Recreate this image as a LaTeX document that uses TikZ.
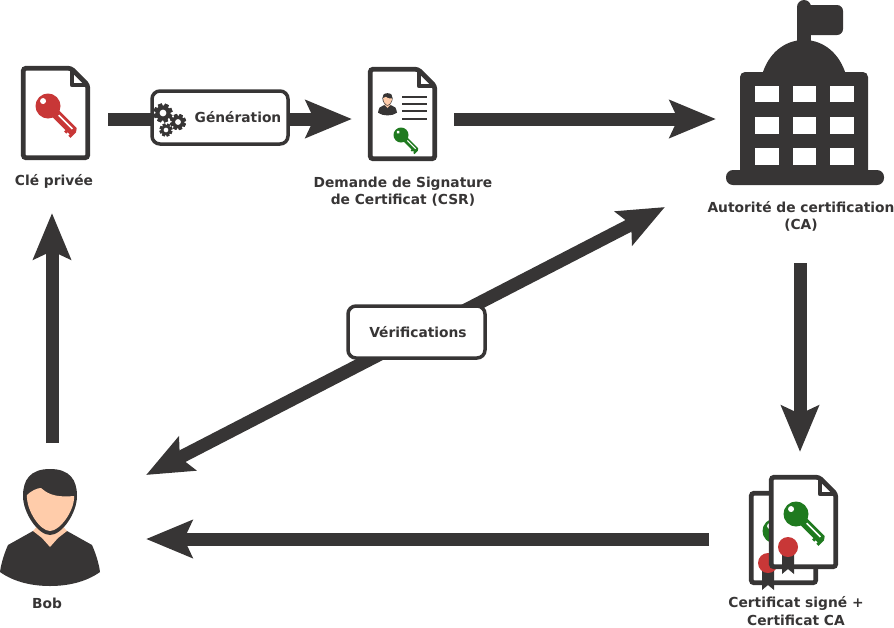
\documentclass[tikz,border=0pt]{standalone}
\usepackage{fontspec}
\setmainfont{DejaVu Sans}
\usetikzlibrary{arrows.meta}
\definecolor{inkdark}{HTML}{373535}
\definecolor{keyred}{HTML}{C83737}
\definecolor{keygreen}{HTML}{1F7A1F}
\definecolor{skin}{HTML}{FFCCAA}
\tikzset{
	zone/.style={shape=rectangle,inner sep=0pt,outer sep=0pt},
	flux/.style={draw=inkdark,line width=13pt,>={Stealth[length=46pt,width=37pt,inset=8pt]}},
	caption/.style={font=\fontsize{13.8}{17.5}\selectfont\bfseries,text=inkdark,align=center,inner sep=0pt},
	tagbox/.style={shape=rectangle,draw=inkdark,fill=white,line width=3.5pt,rounded corners=8pt,font=\fontsize{13.8}{17.5}\selectfont\bfseries,text=inkdark,inner sep=0pt}
}
\newcommand{\docicon}[2]{
	\begin{scope}[shift={(#1,#2)}]
		\draw[draw=inkdark,fill=white,line width=4.7pt,rounded corners=2.5pt] (2.3,2.3) -- (50,2.3) -- (66.7,19) -- (66.7,91.7) -- (2.3,91.7) -- cycle;
		\draw[draw=inkdark,line width=4.7pt,line join=round] (51,2.3) -- (51,19) -- (66.7,19);
	\end{scope}
}
\newcommand{\keyicon}[4]{
	\begin{scope}[shift={(#1,#2)},rotate=-45,scale=#3]
		\fill[#4] (9,-4.6) -- (36,-4.6) -- (38.5,-1) -- (38.5,6.6) -- (35.5,6.6) -- (35.5,4.6) -- (32.5,4.6) -- (32.5,6.6) -- (29.5,6.6) -- (29.5,4.6) -- (9,4.6) -- cycle;
		\fill[#4] (0,0) circle (12.5);
		\fill[white] (-7,0) circle (3);
		\fill[white] (14,-1.8) rectangle (33.5,-0.2);
	\end{scope}
}
\newcommand{\sealicon}[2]{
	\begin{scope}[shift={(#1,#2)}]
		\fill[inkdark] (-6,0) -- (6,0) -- (6,27) -- (0,22) -- (-6,27) -- cycle;
		\fill[keyred] (0,0) circle (10);
	\end{scope}
}
\newcommand{\gearicon}[3]{
	\begin{scope}[shift={(#1,#2)},scale=#3]
		\foreach \ga in {0,45,...,315}
			\fill[inkdark,rotate=\ga+20] (-2.2,-10) rectangle (2.2,10);
		\fill[inkdark] (0,0) circle (8);
		\fill[white] (0,0) circle (3.6);
	\end{scope}
}
\newcommand{\bobicon}[3]{
	\begin{scope}[shift={(#1,#2)},scale=#3]
		\fill[inkdark] (33,63) -- (8,77) .. controls (4,86) and (1,96) .. (0,104) .. controls (14,114) and (32,118) .. (50,118) .. controls (68,118) and (86,114) .. (100,104) .. controls (99,96) and (96,86) .. (92,77) -- (67,63) -- cycle;
		\fill[skin] (33,63) -- (42,70) -- (50,79) -- (58,70) -- (67,63) -- (60,55) -- (40,55) -- cycle;
		\fill[inkdark] (50,1) .. controls (30,1) and (23,12) .. (23,28) .. controls (23,45) and (38,67) .. (50,67) .. controls (62,67) and (77,45) .. (77,28) .. controls (77,12) and (70,1) .. (50,1) -- cycle;
		\fill[skin] (27,27) .. controls (31,23) and (37,20) .. (41,20) .. controls (46,24) and (52,30) .. (74,28) .. controls (75,42) and (60,63) .. (50,63) .. controls (40,63) and (26,42) .. (27,27) -- cycle;
	\end{scope}
}

\begin{document}
\begin{tikzpicture}[x=1pt,y=-1pt]
	\useasboundingbox (0,0) rectangle (894,627);
	\path (52,119) node (cle) [zone,minimum width=112pt,minimum height=188pt] {}
		  (403,119) node (csr) [zone,minimum width=102pt,minimum height=100pt] {}
		  (800,119) node (ca) [zone,minimum width=168pt,minimum height=288pt] {}
		  (800,539) node (cert) [zone,minimum width=182pt,minimum height=174pt] {}
		  (52,539) node (bob) [zone,minimum width=188pt,minimum height=192pt] {};
	\coordinate (dgbob) at (146,475);
	\coordinate (dgca) at (665,207);
	\draw[flux,->] (cle) -- (csr);
	\draw[flux,->] (csr) -- (ca);
	\draw[flux,->] (ca) -- (cert);
	\draw[flux,->] (cert) -- (bob);
	\draw[flux,->] (bob) -- (cle);
	\draw[flux,<->] (dgbob) -- (dgca);
	\path (220,117.5) node (gen) [tagbox,minimum width=136pt,minimum height=53pt] {\hspace*{36pt}Génération}
		  (416.5,332) node (verif) [tagbox,minimum width=137pt,minimum height=52pt] {\hspace*{3pt}Vérifications};
	\gearicon{163}{113}{0.95}
	\gearicon{178}{122}{0.8}
	\gearicon{166}{130}{0.65}
	\docicon{21}{66}
	\keyicon{48}{106}{1}{keyred}
	\docicon{368}{67}
	\bobicon{378}{93}{0.19}
	\foreach \ly in {97,104,111,119}
		\draw[inkdark,line width=2.2pt] (402,\ly) -- (427,\ly);
	\keyicon{401}{135}{0.6}{keygreen}
	\fill[inkdark] (804,7) circle (7);
	\fill[inkdark] (797,7) rectangle (811,50);
	\fill[inkdark,rounded corners=6pt] (805,5) rectangle (843,35);
	\fill[inkdark] (762,75) .. controls (768,54) and (784,40) .. (804,40) .. controls (824,40) and (840,54) .. (846,75) -- cycle;
	\fill[inkdark,rounded corners=5pt] (740,72) rectangle (868,178);
	\fill[inkdark,rounded corners=7pt] (726,170) rectangle (884,185);
	\foreach \wx/\wd in {755/24,793/23,830/24}
		\foreach \wy/\wh in {86/16,117/17,148/17}
			\fill[white] (\wx,\wy) rectangle ++(\wd,\wh);
	\bobicon{0}{468}{1}
	\docicon{749}{491}
	\keyicon{775}{531}{1}{keygreen}
	\sealicon{768}{563}
	\docicon{769}{475}
	\keyicon{796}{514}{1}{keygreen}
	\sealicon{788}{547}
	\path (54,181.5) node (clelabel) [caption] {Clé privée}
		  (403,191.5) node (csrlabel) [caption] {Demande de Signature\\de Certificat (CSR)}
		  (801,216.5) node (calabel) [caption] {Autorité de certification\\(CA)}
		  (47,603) node (boblabel) [caption] {Bob}
		  (796,611) node (certlabel) [caption] {Certificat signé +\\Certificat CA};
\end{tikzpicture}
\end{document}
